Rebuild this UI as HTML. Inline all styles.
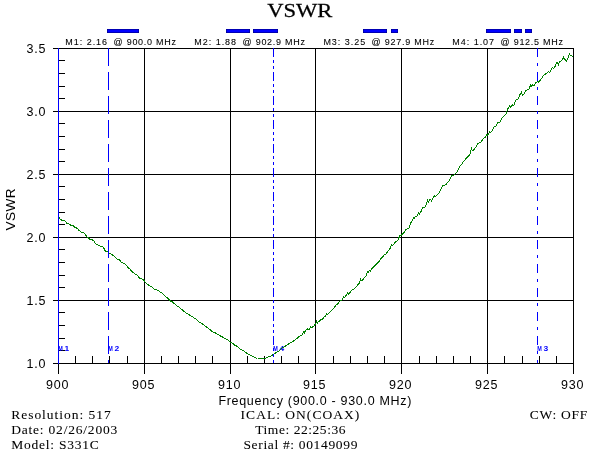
<!DOCTYPE html>
<html lang="en"><head><meta charset="utf-8"><title>VSWR</title>
<style>html,body{margin:0;padding:0;background:#fff}body{width:600px;height:451px;overflow:hidden}svg{display:block;will-change:transform}.sans{font-family:"Liberation Sans",Arial,sans-serif}.serif{font-family:"Liberation Serif","Times New Roman",serif}</style></head><body>
<svg width="600" height="451" viewBox="0 0 600 451">
<rect width="600" height="451" fill="#fff"/>
<g shape-rendering="crispEdges" stroke="#000" stroke-width="1" fill="none">
<line x1="53" y1="363.5" x2="574" y2="363.5"/>
<line x1="53" y1="300.5" x2="574" y2="300.5"/>
<line x1="53" y1="237.5" x2="574" y2="237.5"/>
<line x1="53" y1="174.5" x2="574" y2="174.5"/>
<line x1="53" y1="111.5" x2="574" y2="111.5"/>
<line x1="53" y1="48.5" x2="574" y2="48.5"/>
<line x1="144.5" y1="48" x2="144.5" y2="374"/>
<line x1="230.5" y1="48" x2="230.5" y2="374"/>
<line x1="315.5" y1="48" x2="315.5" y2="374"/>
<line x1="401.5" y1="48" x2="401.5" y2="374"/>
<line x1="487.5" y1="48" x2="487.5" y2="374"/>
<line x1="573.5" y1="48" x2="573.5" y2="374"/>
<line x1="58.5" y1="363" x2="58.5" y2="374"/>
<line x1="75.5" y1="356" x2="75.5" y2="363"/>
<line x1="92.5" y1="356" x2="92.5" y2="363"/>
<line x1="109.5" y1="356" x2="109.5" y2="363"/>
<line x1="127.5" y1="356" x2="127.5" y2="363"/>
<line x1="161.5" y1="356" x2="161.5" y2="363"/>
<line x1="178.5" y1="356" x2="178.5" y2="363"/>
<line x1="195.5" y1="356" x2="195.5" y2="363"/>
<line x1="212.5" y1="356" x2="212.5" y2="363"/>
<line x1="247.5" y1="356" x2="247.5" y2="363"/>
<line x1="264.5" y1="356" x2="264.5" y2="363"/>
<line x1="281.5" y1="356" x2="281.5" y2="363"/>
<line x1="298.5" y1="356" x2="298.5" y2="363"/>
<line x1="333.5" y1="356" x2="333.5" y2="363"/>
<line x1="350.5" y1="356" x2="350.5" y2="363"/>
<line x1="367.5" y1="356" x2="367.5" y2="363"/>
<line x1="384.5" y1="356" x2="384.5" y2="363"/>
<line x1="419.5" y1="356" x2="419.5" y2="363"/>
<line x1="436.5" y1="356" x2="436.5" y2="363"/>
<line x1="453.5" y1="356" x2="453.5" y2="363"/>
<line x1="470.5" y1="356" x2="470.5" y2="363"/>
<line x1="504.5" y1="356" x2="504.5" y2="363"/>
<line x1="522.5" y1="356" x2="522.5" y2="363"/>
<line x1="539.5" y1="356" x2="539.5" y2="363"/>
<line x1="556.5" y1="356" x2="556.5" y2="363"/>
<line x1="58" y1="350.5" x2="65" y2="350.5"/>
<line x1="58" y1="338.5" x2="65" y2="338.5"/>
<line x1="58" y1="325.5" x2="65" y2="325.5"/>
<line x1="58" y1="312.5" x2="65" y2="312.5"/>
<line x1="58" y1="287.5" x2="65" y2="287.5"/>
<line x1="58" y1="275.5" x2="65" y2="275.5"/>
<line x1="58" y1="262.5" x2="65" y2="262.5"/>
<line x1="58" y1="249.5" x2="65" y2="249.5"/>
<line x1="58" y1="224.5" x2="65" y2="224.5"/>
<line x1="58" y1="212.5" x2="65" y2="212.5"/>
<line x1="58" y1="199.5" x2="65" y2="199.5"/>
<line x1="58" y1="186.5" x2="65" y2="186.5"/>
<line x1="58" y1="161.5" x2="65" y2="161.5"/>
<line x1="58" y1="149.5" x2="65" y2="149.5"/>
<line x1="58" y1="136.5" x2="65" y2="136.5"/>
<line x1="58" y1="123.5" x2="65" y2="123.5"/>
<line x1="58" y1="98.5" x2="65" y2="98.5"/>
<line x1="58" y1="86.5" x2="65" y2="86.5"/>
<line x1="58" y1="73.5" x2="65" y2="73.5"/>
<line x1="58" y1="60.5" x2="65" y2="60.5"/>
</g>
<g class="sans" font-size="7.6" fill="#0000ff" font-weight="bold">
<text transform="translate(58.3,351.3) scale(0.72,1)">M</text>
<text transform="translate(64.6,351.3) scale(1.12,1)">1</text>
<text transform="translate(108.3,351.3) scale(0.72,1)">M</text>
<text transform="translate(114.6,351.3) scale(1.12,1)">2</text>
<text transform="translate(273.3,351.3) scale(0.72,1)">M</text>
<text transform="translate(279.6,351.3) scale(1.12,1)">4</text>
<text transform="translate(537.3,351.3) scale(0.72,1)">M</text>
<text transform="translate(543.5999999999999,351.3) scale(1.12,1)">3</text>
</g>
<polyline points="58.5,217.0 59.5,218.1 60.5,219.3 61.5,220.0 62.5,220.1 63.5,220.7 64.5,220.9 65.5,221.2 66.5,222.9 67.5,223.7 68.5,223.6 69.5,224.3 70.5,225.1 71.5,225.3 72.5,225.4 73.5,225.8 74.5,227.0 75.5,227.8 76.5,228.0 77.5,228.5 78.5,230.1 79.5,230.6 80.5,231.3 81.5,232.7 82.5,232.7 83.5,232.7 84.5,233.5 85.5,234.5 86.5,236.4 87.5,237.3 88.5,238.0 89.5,239.0 90.5,239.2 91.5,239.8 92.5,240.0 93.5,240.7 94.5,241.9 95.5,243.8 96.5,244.7 97.5,244.6 98.5,245.2 99.5,245.7 100.5,246.3 101.5,246.4 102.5,246.5 103.5,247.5 104.5,249.6 105.5,251.2 106.5,251.1 107.5,251.4 108.5,252.7 109.5,253.1 110.5,253.6 111.5,254.4 112.5,255.0 113.5,255.5 114.5,256.1 115.5,257.4 116.5,258.5 117.5,259.5 118.5,259.5 119.5,259.7 120.5,261.3 121.5,262.8 122.5,263.0 123.5,263.1 124.5,263.8 125.5,264.7 126.5,265.7 127.5,266.7 128.5,268.2 129.5,268.8 130.5,269.7 131.5,271.2 132.5,272.1 133.5,272.4 134.5,273.3 135.5,274.3 136.5,274.6 137.5,275.1 138.5,276.7 139.5,278.0 140.5,278.4 141.5,278.7 142.5,279.3 143.5,280.1 144.5,281.1 145.5,282.6 146.5,283.7 147.5,284.3 148.5,285.0 149.5,285.8 150.5,286.3 151.5,286.7 152.5,287.2 153.5,288.3 154.5,289.6 155.5,289.9 156.5,289.8 157.5,290.1 158.5,290.8 159.5,291.8 160.5,292.3 161.5,292.6 162.5,293.5 163.5,294.4 164.5,295.5 165.5,296.5 166.5,297.5 167.5,297.9 168.5,298.7 169.5,300.0 170.5,301.1 171.5,301.6 172.5,301.9 173.5,302.9 174.5,303.7 175.5,304.3 176.5,305.3 177.5,306.5 178.5,306.8 179.5,307.4 180.5,308.5 181.5,309.2 182.5,310.0 183.5,310.9 184.5,311.7 185.5,312.4 186.5,313.3 187.5,313.8 188.5,314.2 189.5,314.9 190.5,315.7 191.5,316.4 192.5,316.7 193.5,317.3 194.5,318.3 195.5,318.7 196.5,319.4 197.5,320.5 198.5,321.4 199.5,322.2 200.5,322.7 201.5,323.1 202.5,323.8 203.5,324.8 204.5,325.6 205.5,326.3 206.5,327.0 207.5,327.7 208.5,328.5 209.5,329.1 210.5,330.0 211.5,331.1 212.5,331.9 213.5,332.2 214.5,332.2 215.5,333.0 216.5,333.9 217.5,334.3 218.5,334.5 219.5,335.4 220.5,336.1 221.5,336.3 222.5,337.1 223.5,337.9 224.5,338.3 225.5,338.9 226.5,339.3 227.5,339.8 228.5,340.5 229.5,341.4 230.5,342.2 231.5,342.9 232.5,343.3 233.5,344.1 234.5,345.1 235.5,345.6 236.5,346.0 237.5,346.8 238.5,347.6 239.5,348.3 240.5,349.2 241.5,349.9 242.5,350.3 243.5,350.4 244.5,351.2 245.5,352.3 246.5,353.0 247.5,353.7 248.5,354.2 249.5,354.6 250.5,355.3 251.5,355.6 252.5,356.1 253.5,357.0 254.5,357.1 255.5,357.6 256.5,358.1 257.5,358.0 258.5,358.0 259.5,358.4 260.5,358.3 261.5,358.2 262.5,358.6 263.5,358.8 264.5,358.7 265.5,358.4 266.5,357.8 267.5,357.2 268.5,356.7 269.5,356.4 270.5,356.1 271.5,355.6 272.5,355.1 273.5,354.4 274.5,353.7 275.5,353.1 276.5,352.5 277.5,351.8 278.5,351.2 279.5,350.6 280.5,349.6 281.5,348.6 282.5,347.8 283.5,347.3 284.5,346.8 285.5,345.9 286.5,345.3 287.5,344.8 288.5,344.0 289.5,343.3 290.5,342.9 291.5,342.2 292.5,341.6 293.5,341.1 294.5,340.4 295.5,339.3 296.5,338.5 297.5,338.0 298.5,337.0 299.5,336.2 300.5,335.9 301.5,335.3 302.5,334.3 303.5,331.6 304.5,332.9 305.5,330.2 306.5,329.3 307.5,328.9 308.5,329.6 309.5,329.0 310.5,326.8 311.5,327.7 312.5,327.0 313.5,326.3 314.5,325.2 315.5,324.2 316.5,321.3 317.5,323.2 318.5,321.1 319.5,321.3 320.5,319.9 321.5,319.4 322.5,319.0 323.5,317.8 324.5,316.7 325.5,315.9 326.5,313.7 327.5,314.3 328.5,313.6 329.5,312.9 330.5,311.7 331.5,310.4 332.5,309.7 333.5,308.7 334.5,307.3 335.5,305.9 336.5,304.7 337.5,304.3 338.5,303.0 339.5,301.3 340.5,300.4 341.5,300.1 342.5,299.6 343.5,296.8 344.5,297.4 345.5,296.0 346.5,295.0 347.5,292.7 348.5,293.9 349.5,292.9 350.5,292.0 351.5,290.5 352.5,289.6 353.5,289.4 354.5,288.7 355.5,287.4 356.5,286.5 357.5,285.1 358.5,284.0 359.5,282.8 360.5,279.3 361.5,280.9 362.5,280.2 363.5,278.8 364.5,277.8 365.5,276.8 366.5,274.8 367.5,271.5 368.5,272.3 369.5,270.3 370.5,271.2 371.5,268.3 372.5,268.1 373.5,267.5 374.5,265.4 375.5,265.3 376.5,263.6 377.5,263.0 378.5,262.1 379.5,260.7 380.5,258.9 381.5,257.8 382.5,257.3 383.5,255.9 384.5,254.5 385.5,254.2 386.5,253.3 387.5,251.6 388.5,250.4 389.5,249.3 390.5,247.7 391.5,244.7 392.5,245.6 393.5,244.3 394.5,243.3 395.5,242.0 396.5,241.1 397.5,240.6 398.5,239.8 399.5,235.3 400.5,235.9 401.5,234.9 402.5,233.8 403.5,232.9 404.5,232.4 405.5,229.7 406.5,229.2 407.5,228.9 408.5,228.7 409.5,227.4 410.5,223.2 411.5,222.1 412.5,219.9 413.5,218.0 414.5,218.4 415.5,216.3 416.5,216.8 417.5,215.5 418.5,212.7 419.5,214.0 420.5,212.2 421.5,210.8 422.5,207.9 423.5,207.9 424.5,207.3 425.5,206.3 426.5,204.2 427.5,200.1 428.5,202.2 429.5,199.2 430.5,199.1 431.5,201.0 432.5,199.0 433.5,196.8 434.5,196.0 435.5,196.3 436.5,195.4 437.5,194.5 438.5,193.7 439.5,192.1 440.5,190.4 441.5,188.2 442.5,185.9 443.5,185.5 444.5,185.6 445.5,184.8 446.5,183.8 447.5,182.5 448.5,181.5 449.5,180.4 450.5,178.4 451.5,175.5 452.5,175.6 453.5,175.4 454.5,174.3 455.5,173.3 456.5,172.7 457.5,171.0 458.5,169.0 459.5,167.3 460.5,165.2 461.5,164.5 462.5,162.9 463.5,161.2 464.5,160.8 465.5,159.3 466.5,158.0 467.5,156.8 468.5,156.3 469.5,155.1 470.5,152.3 471.5,148.5 472.5,150.7 473.5,150.4 474.5,148.8 475.5,147.5 476.5,146.2 477.5,143.8 478.5,143.1 479.5,142.8 480.5,142.5 481.5,141.1 482.5,139.7 483.5,138.8 484.5,137.7 485.5,137.2 486.5,134.8 487.5,135.1 488.5,134.3 489.5,131.7 490.5,132.7 491.5,131.6 492.5,130.1 493.5,128.3 494.5,126.4 495.5,126.7 496.5,125.1 497.5,123.2 498.5,122.2 499.5,122.4 500.5,121.7 501.5,118.9 502.5,117.4 503.5,116.4 504.5,115.6 505.5,114.8 506.5,112.6 507.5,109.1 508.5,108.2 509.5,105.5 510.5,107.1 511.5,105.7 512.5,104.9 513.5,105.4 514.5,104.0 515.5,100.1 516.5,99.6 517.5,99.8 518.5,98.5 519.5,94.9 520.5,94.8 521.5,92.2 522.5,95.2 523.5,94.8 524.5,92.7 525.5,91.0 526.5,90.4 527.5,89.9 528.5,89.4 529.5,88.2 530.5,84.8 531.5,85.9 532.5,85.0 533.5,85.7 534.5,85.2 535.5,83.1 536.5,82.4 537.5,81.7 538.5,82.1 539.5,81.4 540.5,79.7 541.5,78.8 542.5,76.9 543.5,75.2 544.5,74.4 545.5,74.0 546.5,73.4 547.5,72.6 548.5,71.9 549.5,72.2 550.5,71.6 551.5,69.1 552.5,67.6 553.5,68.7 554.5,67.2 555.5,66.1 556.5,62.7 557.5,62.9 558.5,64.6 559.5,61.8 560.5,61.5 561.5,60.7 562.5,59.8 563.5,57.4 564.5,59.0 565.5,60.1 566.5,60.9 567.5,59.1 568.5,56.3 569.5,54.2 570.5,55.8 571.5,55.3 572.5,56.6 573.5,57.3" fill="none" stroke="#008000" stroke-width="1" shape-rendering="crispEdges"/>
<g shape-rendering="crispEdges" stroke="#0000ff" stroke-width="1" fill="none">
<line x1="58.5" y1="48" x2="58.5" y2="364"/>
<line x1="108.5" y1="48" x2="108.5" y2="363" stroke-dasharray="18 6"/>
<line x1="273.5" y1="48" x2="273.5" y2="363" stroke-dasharray="9 3 3 3 3 3"/>
<line x1="537.5" y1="48" x2="537.5" y2="363" stroke-dasharray="9 6 3 6"/>
</g>
<g shape-rendering="crispEdges" fill="#000078" stroke="none">
<rect x="107" y="29" width="32" height="4"/>
<rect x="226" y="29" width="24" height="4"/>
<rect x="253" y="29" width="25" height="4"/>
<rect x="363" y="29" width="24" height="4"/>
<rect x="391" y="29" width="7" height="4"/>
<rect x="486" y="29" width="25" height="4"/>
<rect x="514" y="29" width="8" height="4"/>
<rect x="525" y="29" width="7" height="4"/>
</g>
<g fill="#0000ff" stroke="none">
<rect x="107.55" y="29.55" width="30.9" height="2.9"/>
<rect x="226.55" y="29.55" width="22.9" height="2.9"/>
<rect x="253.55" y="29.55" width="23.9" height="2.9"/>
<rect x="363.55" y="29.55" width="22.9" height="2.9"/>
<rect x="391.55" y="29.55" width="5.9" height="2.9"/>
<rect x="486.55" y="29.55" width="23.9" height="2.9"/>
<rect x="514.55" y="29.55" width="6.9" height="2.9"/>
<rect x="525.55" y="29.55" width="5.9" height="2.9"/>
</g>
<g class="sans" font-size="9" fill="#000" stroke="#000" stroke-width="0.08">
<text transform="translate(65.3,44.8) scale(1,1.1)" textLength="41.8" lengthAdjust="spacing">M1: 2.16</text>
<text transform="translate(113.5,44.8) scale(1,1.1)" textLength="62.6" lengthAdjust="spacing">@ 900.0 MHz</text>
<text transform="translate(194.3,44.8) scale(1,1.1)" textLength="41.8" lengthAdjust="spacing">M2: 1.88</text>
<text transform="translate(242.5,44.8) scale(1,1.1)" textLength="62.6" lengthAdjust="spacing">@ 902.9 MHz</text>
<text transform="translate(323.4,44.8) scale(1,1.1)" textLength="41.8" lengthAdjust="spacing">M3: 3.25</text>
<text transform="translate(371.59999999999997,44.8) scale(1,1.1)" textLength="62.6" lengthAdjust="spacing">@ 927.9 MHz</text>
<text transform="translate(452.3,44.8) scale(1,1.1)" textLength="41.8" lengthAdjust="spacing">M4: 1.07</text>
<text transform="translate(500.5,44.8) scale(1,1.1)" textLength="62.6" lengthAdjust="spacing">@ 912.5 MHz</text>
</g>
<g class="sans" font-size="12.5" fill="#000">
<text x="26.5" y="368.0" textLength="19" lengthAdjust="spacing">1.0</text>
<text x="26.5" y="305.0" textLength="19" lengthAdjust="spacing">1.5</text>
<text x="26.5" y="242.0" textLength="19" lengthAdjust="spacing">2.0</text>
<text x="26.5" y="179.0" textLength="19" lengthAdjust="spacing">2.5</text>
<text x="26.5" y="116.0" textLength="19" lengthAdjust="spacing">3.0</text>
<text x="26.5" y="53.0" textLength="19" lengthAdjust="spacing">3.5</text>
<text x="45.9" y="388.7" textLength="22.6" lengthAdjust="spacing">900</text>
<text x="131.9" y="388.7" textLength="22.6" lengthAdjust="spacing">905</text>
<text x="217.9" y="388.7" textLength="22.6" lengthAdjust="spacing">910</text>
<text x="302.9" y="388.7" textLength="22.6" lengthAdjust="spacing">915</text>
<text x="388.9" y="388.7" textLength="22.6" lengthAdjust="spacing">920</text>
<text x="474.9" y="388.7" textLength="22.6" lengthAdjust="spacing">925</text>
<text x="560.9" y="388.7" textLength="22.6" lengthAdjust="spacing">930</text>
<text x="218.4" y="404.6" textLength="193" lengthAdjust="spacing">Frequency (900.0 - 930.0 MHz)</text>
<text font-size="13.6" transform="translate(14.8,230.4) rotate(-90)" textLength="42" lengthAdjust="spacing">VSWR</text>
</g>
<text class="serif" font-size="22.6" transform="translate(267.2,17) scale(1,0.875)" textLength="65.2" lengthAdjust="spacing" fill="#000" stroke="#000" stroke-width="0.3">VSWR</text>
<g class="serif" font-size="13.5" fill="#000" stroke="#000" stroke-width="0.06" style="white-space:pre">
<text x="11.2" y="418.8" textLength="99.5" lengthAdjust="spacing">Resolution:  517</text>
<text x="11.2" y="433.9" textLength="106" lengthAdjust="spacing">Date: 02/26/2003</text>
<text x="11.2" y="448.9" textLength="87.6" lengthAdjust="spacing">Model: S331C</text>
<text x="240.6" y="418.8" textLength="118.6" lengthAdjust="spacing">ICAL: ON(COAX)</text>
<text x="255.2" y="433.9" textLength="90.3" lengthAdjust="spacing">Time: 22:25:36</text>
<text x="243.4" y="448.9" textLength="114" lengthAdjust="spacing">Serial #: 00149099</text>
<text x="529.7" y="418.8" textLength="57.5" lengthAdjust="spacing">CW: OFF</text>
</g>
</svg></body></html>
